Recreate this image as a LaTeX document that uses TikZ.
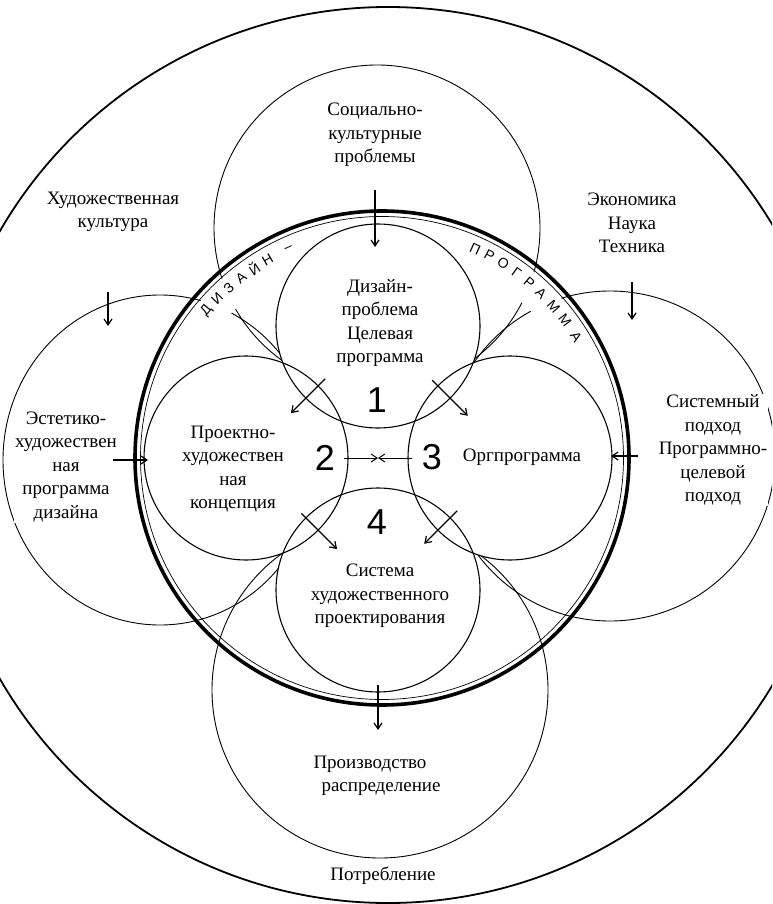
\documentclass[tikz,border=0pt]{standalone}
\usepackage{fontspec}
\setmainfont{Liberation Serif}
\newfontfamily\arcfont{Liberation Sans}
\usetikzlibrary{positioning,calc,arrows.meta}
\tikzstyle{lbl} = [align=center, inner sep=1pt, font=\fontsize{19}{23.5}\selectfont]
\tikzstyle{sidelbl} = [lbl, fill=white]
\tikzstyle{num} = [inner sep=0pt, font=\arcfont\fontsize{36}{36}\selectfont]
\tikzstyle{arcl} = [inner sep=0pt, font=\arcfont\fontsize{14}{14}\selectfont]
\tikzstyle{big} = [line width=0.9pt]
\tikzstyle{inner} = [line width=1.1pt]
\tikzstyle{pointer} = [-{Straight Barb[length=6pt,width=8pt]}, line width=1.2pt]

\begin{document}
\begin{tikzpicture}[x=1pt, y=-1pt]
\fill[white] (0,0) rectangle (772,904);
\useasboundingbox (0,0) rectangle (772,904);
\clip (0,0) rectangle (772,904);
\coordinate (O) at (382,458);
\coordinate (c1) at (378,326);
\coordinate (c2) at (246,458);
\coordinate (c3) at (510,458);
\coordinate (c4) at (378,590);
\draw[line width=1.8pt] (388,455) circle[radius=448];
\draw[big] (377,228) circle[radius=163];
\draw[big] (160,460) ellipse[x radius=157, y radius=165];
\draw[big] (610,456) circle[radius=165];
\draw[big] (380,690) circle[radius=168];
\fill[white] ($(O)+(-143:240)$) arc[start angle=-143, end angle=-111, radius=240]
  -- ($(O)+(-111:209)$) arc[start angle=-111, end angle=-143, radius=209] -- cycle;
\fill[white] ($(O)+(-69:240)$) arc[start angle=-69, end angle=-29, radius=240]
  -- ($(O)+(-29:209)$) arc[start angle=-29, end angle=-69, radius=209] -- cycle;
\foreach \c in {c1,c2,c3,c4} \fill[white] (\c) circle[radius=102];
\foreach \c in {c1,c2,c3,c4} \draw[inner] (\c) circle[radius=102];
\draw[line width=3.6pt] (O) circle[radius=247];
\draw[line width=0.7pt] (O) circle[radius=241.5];
\foreach \ch/\a in {Д/140,И/136,З/132,А/128,Й/124,Н/120,–/114,П/66,Р/62,О/58,Г/54,Р/50,А/46,М/41.5,М/37,А/32}
  \node[arcl, rotate=\a-90] at ($(O)+(-\a:229)$) {\ch};

\node[lbl] (socio) at (375,135) {Социально-\\культурные\\проблемы};
\node[lbl] (art) at (113,212) {Художественная\\культура};
\node[lbl] (econ) at (632,223) {Экономика\\Наука\\Техника};
\node[sidelbl] (aest) at (66,467) {Эстетико-\\художествен\\ная\\программа\\дизайна};
\node[sidelbl] (sys) at (713,450) {Системный\\подход\\Программно-\\целевой\\подход};
\node[lbl] (design) at (380,323) {Дизайн-\\проблема\\Целевая\\программа};
\node[lbl] (concept) at (233,469) {Проектно-\\художествен\\ная\\концепция};
\node[lbl] (org) at (522,457) {Оргпрограмма};
\node[lbl] (sysdes) at (380,596) {Система\\художественного\\проектирования};
\node[lbl, align=left] (prod) at (377,776) {Производство\\\hspace*{8pt}распределение};
\node[lbl] (cons) at (383,876) {Потребление};
\node[num] (n1) at (377,400) {1};
\node[num] (n2) at (325,458) {2};
\node[num] (n3) at (432,457) {3};
\node[num] (n4) at (377,522) {4};

\coordinate (a1) at (375,190); \coordinate (a2) at (375,247);
\coordinate (b1) at (108,292); \coordinate (b2) at (108,326);
\coordinate (d1) at (632,282); \coordinate (d2) at (632,320);
\coordinate (l1) at (113,460); \coordinate (l2) at (148,460);
\coordinate (r1) at (638,456); \coordinate (r2) at (611,456);
\coordinate (p1) at (378,685); \coordinate (p2) at (378,730);
\draw[pointer] (a1) -- (a2);
\draw[pointer] (b1) -- (b2);
\draw[pointer] (d1) -- (d2);
\draw[pointer] (l1) -- (l2);
\draw[pointer] (r1) -- (r2);
\draw[pointer] (p1) -- (p2);
\draw[pointer] ($(c1)!.40!(c2)$) -- ($(c1)!.66!(c2)$);
\draw[pointer] ($(c1)!.41!(c3)$) -- ($(c1)!.68!(c3)$);
\draw[pointer] ($(c2)!.42!(c4)$) -- ($(c2)!.69!(c4)$);
\draw[pointer] ($(c3)!.40!(c4)$) -- ($(c3)!.65!(c4)$);
\draw[pointer, line width=1pt] ($(c2)!.37!(c3)$) -- ($(c2)!.5!(c3)$);
\draw[pointer, line width=1pt] ($(c3)!.37!(c2)$) -- ($(c2)!.5!(c3)$);
\end{tikzpicture}
\end{document}
